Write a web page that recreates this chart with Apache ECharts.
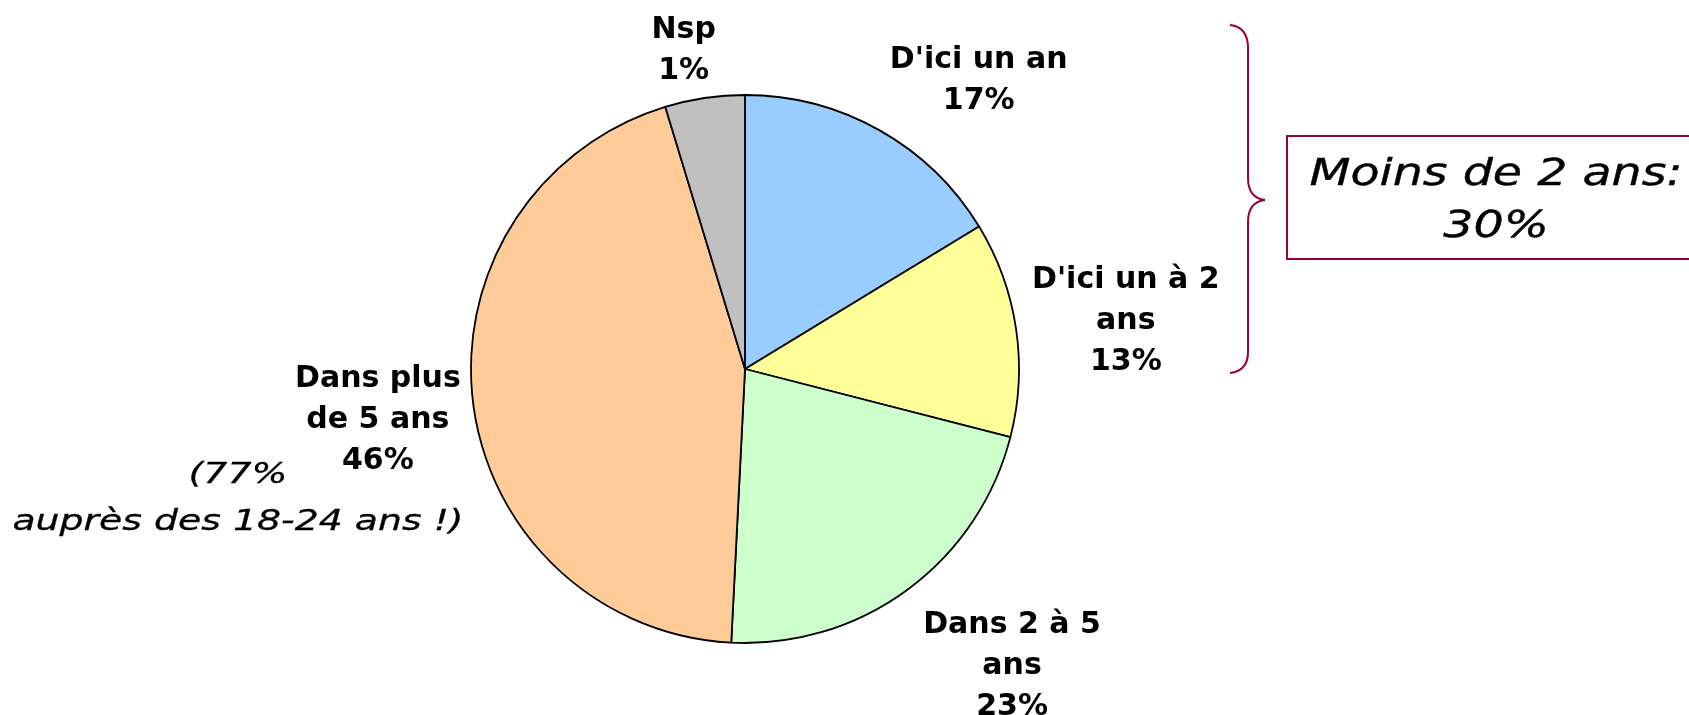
<!DOCTYPE html>
<html>
<head>
<meta charset="utf-8">
<style>
html,body{margin:0;padding:0;background:#fff;}
#chart{width:1689px;height:715px;}
</style>
<script src="https://cdn.jsdelivr.net/npm/echarts@6/dist/echarts.min.js"></script>
</head>
<body>
<div id="chart"></div>
<script>
// Categories (slice names, with the line breaks used in the labels)
const categories = ["D'ici un an", "D'ici un à 2 ans", "Dans 2 à 5 ans", "Dans plus de 5 ans", "Nsp"];
const labelNames = ["D'ici un an", "D'ici un à 2\nans", "Dans 2 à 5\nans", "Dans plus\nde 5 ans", "Nsp"];
// Percentages printed on the labels
const percentLabels = [17, 13, 23, 46, 1];
// Slice sizes as drawn in the picture (angular shares, %)
const sliceShares = [16.3, 12.7, 21.8, 44.5, 4.7];
const sliceColors = ['#99CCFF', '#FFFF99', '#CCFFCC', '#FFCC99', '#C0C0C0'];
// Annotation texts
const noteText = "(77%\nauprès des 18-24 ans !)";
const boxText = "Moins de 2 ans:\n30%";

const labelOffsets = [[46, 46], [2, 9], [40, -11], [13, 4], [-5, 61]];
const CX = 745, CY = 369, R = 274, LABEL_MID = 380;
const accent = '#990033';

const chart = echarts.init(document.getElementById('chart'), null, {renderer: 'canvas'});

const pieData = categories.map((c, i) => ({
  name: c,
  value: sliceShares[i],
  itemStyle: {color: sliceColors[i]}
}));
const labelData = categories.map((c, i) => ({
  name: c,
  value: sliceShares[i],
  label: {
    formatter: labelNames[i] + '\n' + percentLabels[i] + '%',
    offset: labelOffsets[i]
  }
}));

const braceStyle = {fill: 'none', stroke: accent, lineWidth: 2};
function curve(x1, y1, cx, cy, x2, y2) {
  return {type: 'bezierCurve', shape: {x1, y1, cpx1: cx, cpy1: cy, x2, y2}, style: braceStyle};
}
function seg(x1, y1, x2, y2) {
  return {type: 'line', shape: {x1, y1, x2, y2}, style: braceStyle};
}

const option = {
  backgroundColor: '#ffffff',
  animation: false,
  series: [
    {
      type: 'pie',
      center: [CX, CY],
      radius: [0, R],
      startAngle: 90,
      clockwise: true,
      avoidLabelOverlap: false,
      silent: true,
      label: {show: false},
      labelLine: {show: false},
      itemStyle: {borderColor: '#000', borderWidth: 1.8},
      emphasis: {disabled: true},
      data: pieData
    },
    {
      type: 'pie',
      center: [CX, CY],
      radius: [R, 2 * LABEL_MID - R],
      startAngle: 90,
      clockwise: true,
      avoidLabelOverlap: false,
      silent: true,
      z: 5,
      itemStyle: {color: 'rgba(0,0,0,0)', borderWidth: 0},
      labelLine: {show: false},
      emphasis: {disabled: true},
      label: {
        show: true,
        position: 'inside',
        rotate: 0,
        color: '#000',
        fontFamily: 'DejaVu Sans',
        fontWeight: 'bold',
        fontSize: 30,
        lineHeight: 41,
        align: 'center',
        verticalAlign: 'middle'
      },
      data: labelData
    }
  ],
  graphic: [
    {
      type: 'text',
      x: 238, y: 499,
      scaleX: 1.35,
      style: {
        text: noteText,
        fontFamily: 'DejaVu Sans',
        fontStyle: 'italic',
        fontSize: 28,
        lineHeight: 47,
        fill: '#000',
        stroke: '#000',
        lineWidth: 0.3,
        textAlign: 'center',
        textVerticalAlign: 'middle'
      }
    },
    {
      type: 'rect',
      shape: {x: 1287, y: 136, width: 420, height: 123},
      style: {fill: '#fff', stroke: accent, lineWidth: 2}
    },
    {
      type: 'text',
      x: 1496, y: 201,
      scaleX: 1.25,
      style: {
        text: boxText,
        fontFamily: 'DejaVu Sans',
        fontStyle: 'italic',
        fontSize: 38,
        lineHeight: 52,
        fill: '#000',
        stroke: '#000',
        lineWidth: 0.4,
        textAlign: 'center',
        textVerticalAlign: 'middle'
      }
    },
    curve(1230, 25, 1248, 27, 1248, 48),
    seg(1248, 48, 1248, 178),
    curve(1248, 178, 1248, 198, 1265, 200),
    curve(1265, 200, 1248, 202, 1248, 222),
    seg(1248, 222, 1248, 352),
    curve(1248, 352, 1248, 371, 1230, 373)
  ]
};
chart.setOption(option);
</script>
</body>
</html>
